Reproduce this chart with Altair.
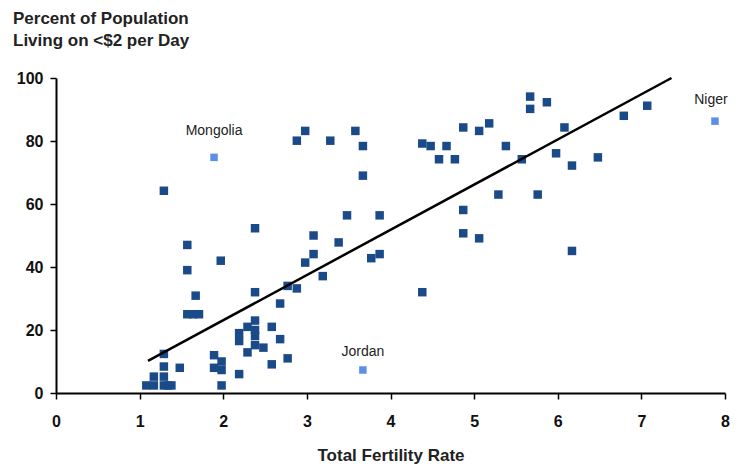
import altair as alt
import pandas as pd

# Dark blue countries
dark_x = [1.08, 1.17, 1.17, 1.29, 1.29, 1.29, 1.29, 1.34, 1.38, 1.48, 1.29, 1.57, 1.57, 1.97,
          1.67, 1.57, 1.64, 1.71, 1.89, 1.89, 1.98, 1.98, 1.98, 2.19, 2.19, 2.19, 2.29, 2.29,
          2.38, 2.38, 2.38, 2.38, 2.48, 2.58, 2.58, 2.68, 2.77, 2.38, 2.38, 2.68, 2.77, 2.88,
          2.98, 3.08, 3.08, 3.38, 3.48, 3.87, 3.77, 3.87, 3.19, 2.88, 2.98, 3.28, 3.58, 3.67,
          3.67, 4.38, 4.48, 4.67, 4.58, 4.77, 4.87, 5.06, 5.18, 5.38, 5.57, 5.67, 5.67, 5.87,
          6.08, 5.98, 6.17, 6.48, 6.79, 7.07, 5.29, 5.76, 4.87, 4.87, 5.06, 6.17, 4.38]
dark_y = [2.4, 2.4, 5.2, 2.4, 5.2, 8.4, 12.4, 2.4, 2.4, 8.0, 64.2, 47.0, 39.0, 42.0,
          30.9, 25.0, 25.0, 25.0, 12.0, 8.0, 10.0, 7.3, 2.4, 19.0, 16.5, 6.0, 21.0, 12.9,
          23.0, 20.0, 18.1, 15.2, 14.4, 21.0, 9.1, 17.1, 11.0, 52.3, 32.0, 28.4, 34.0, 33.2,
          41.4, 44.1, 50.0, 47.8, 56.4, 56.4, 42.8, 44.1, 37.1, 80.1, 83.2, 80.1, 83.2, 78.4,
          69.0, 79.2, 78.4, 78.4, 74.2, 74.2, 84.3, 83.2, 85.6, 78.4, 74.2, 94.1, 90.2, 92.3,
          84.3, 76.1, 72.2, 74.8, 88.0, 91.2, 63.0, 63.0, 58.1, 50.7, 49.1, 45.1, 32.0]

# Highlighted countries
hi_names = ["Mongolia", "Jordan", "Niger"]
hi_x = [1.89, 3.67, 7.88]
hi_y = [74.8, 7.3, 86.3]

# Trend line
trend_x = [1.1, 7.36]
trend_y = [10.2, 100.0]

x_ticks = [0, 1, 2, 3, 4, 5, 6, 7, 8]
y_ticks = [0, 20, 40, 60, 80, 100]

dark = pd.DataFrame({"tfr": dark_x, "pct": dark_y})
hi = pd.DataFrame({"tfr": hi_x, "pct": hi_y, "name": hi_names})
trend = pd.DataFrame({"tfr": trend_x, "pct": trend_y})

FONT = "Liberation Sans"

xs = alt.X("tfr:Q", scale=alt.Scale(domain=[0, 8], nice=False),
           axis=alt.Axis(values=x_ticks, format="d", title="Total Fertility Rate", grid=False,
                         labelFlush=False,
                         domainColor="black", domainWidth=2, tickColor="black", tickWidth=1.5,
                         tickSize=6, labelFont=FONT, labelFontSize=16, labelFontWeight="bold",
                         labelColor="#111", labelPadding=14, titleFont=FONT, titleFontSize=17,
                         titleFontWeight="bold", titleColor="#222", titlePadding=18))
ys = alt.Y("pct:Q", scale=alt.Scale(domain=[0, 100], nice=False),
           axis=alt.Axis(values=y_ticks, format="d", title=None, grid=False,
                         labelFlush=False,
                         domainColor="black", domainWidth=2, tickColor="black", tickWidth=1.5,
                         tickSize=6, labelFont=FONT, labelFontSize=16, labelFontWeight="bold",
                         labelColor="#111", labelPadding=7))

pts = alt.Chart(dark).mark_square(size=72, color="#1b4a88", opacity=1).encode(x=xs, y=ys)
hip = alt.Chart(hi).mark_square(size=56, color="#5b8fe8", opacity=1).encode(x="tfr:Q", y="pct:Q")
line = alt.Chart(trend).mark_line(color="black", strokeWidth=2.5).encode(x="tfr:Q", y="pct:Q")

def lab(name, dx, dy):
    return alt.Chart(hi).transform_filter(alt.datum.name == name).mark_text(
        font=FONT, fontSize=14, color="#222", dx=dx, dy=dy
    ).encode(x="tfr:Q", y="pct:Q", text="name:N")

chart = alt.layer(pts, hip, line, lab("Mongolia", 0, -26), lab("Jordan", 0, -18),
                  lab("Niger", -4, -21)).properties(
    width=669, height=315,
    autosize=alt.AutoSizeParams(type="none"),
    padding={"left": 48, "top": 70, "right": 6, "bottom": 74},
    title=alt.TitleParams(["Percent of Population", "Living on <$2 per Day"], anchor="start",
                          frame="group", dx=-43, offset=20, font=FONT, fontSize=17,
                          fontWeight="bold", color="#222", lineHeight=22),
).configure_view(stroke=None)

chart.save("out.html", embed_options={"renderer": "svg", "actions": False})
